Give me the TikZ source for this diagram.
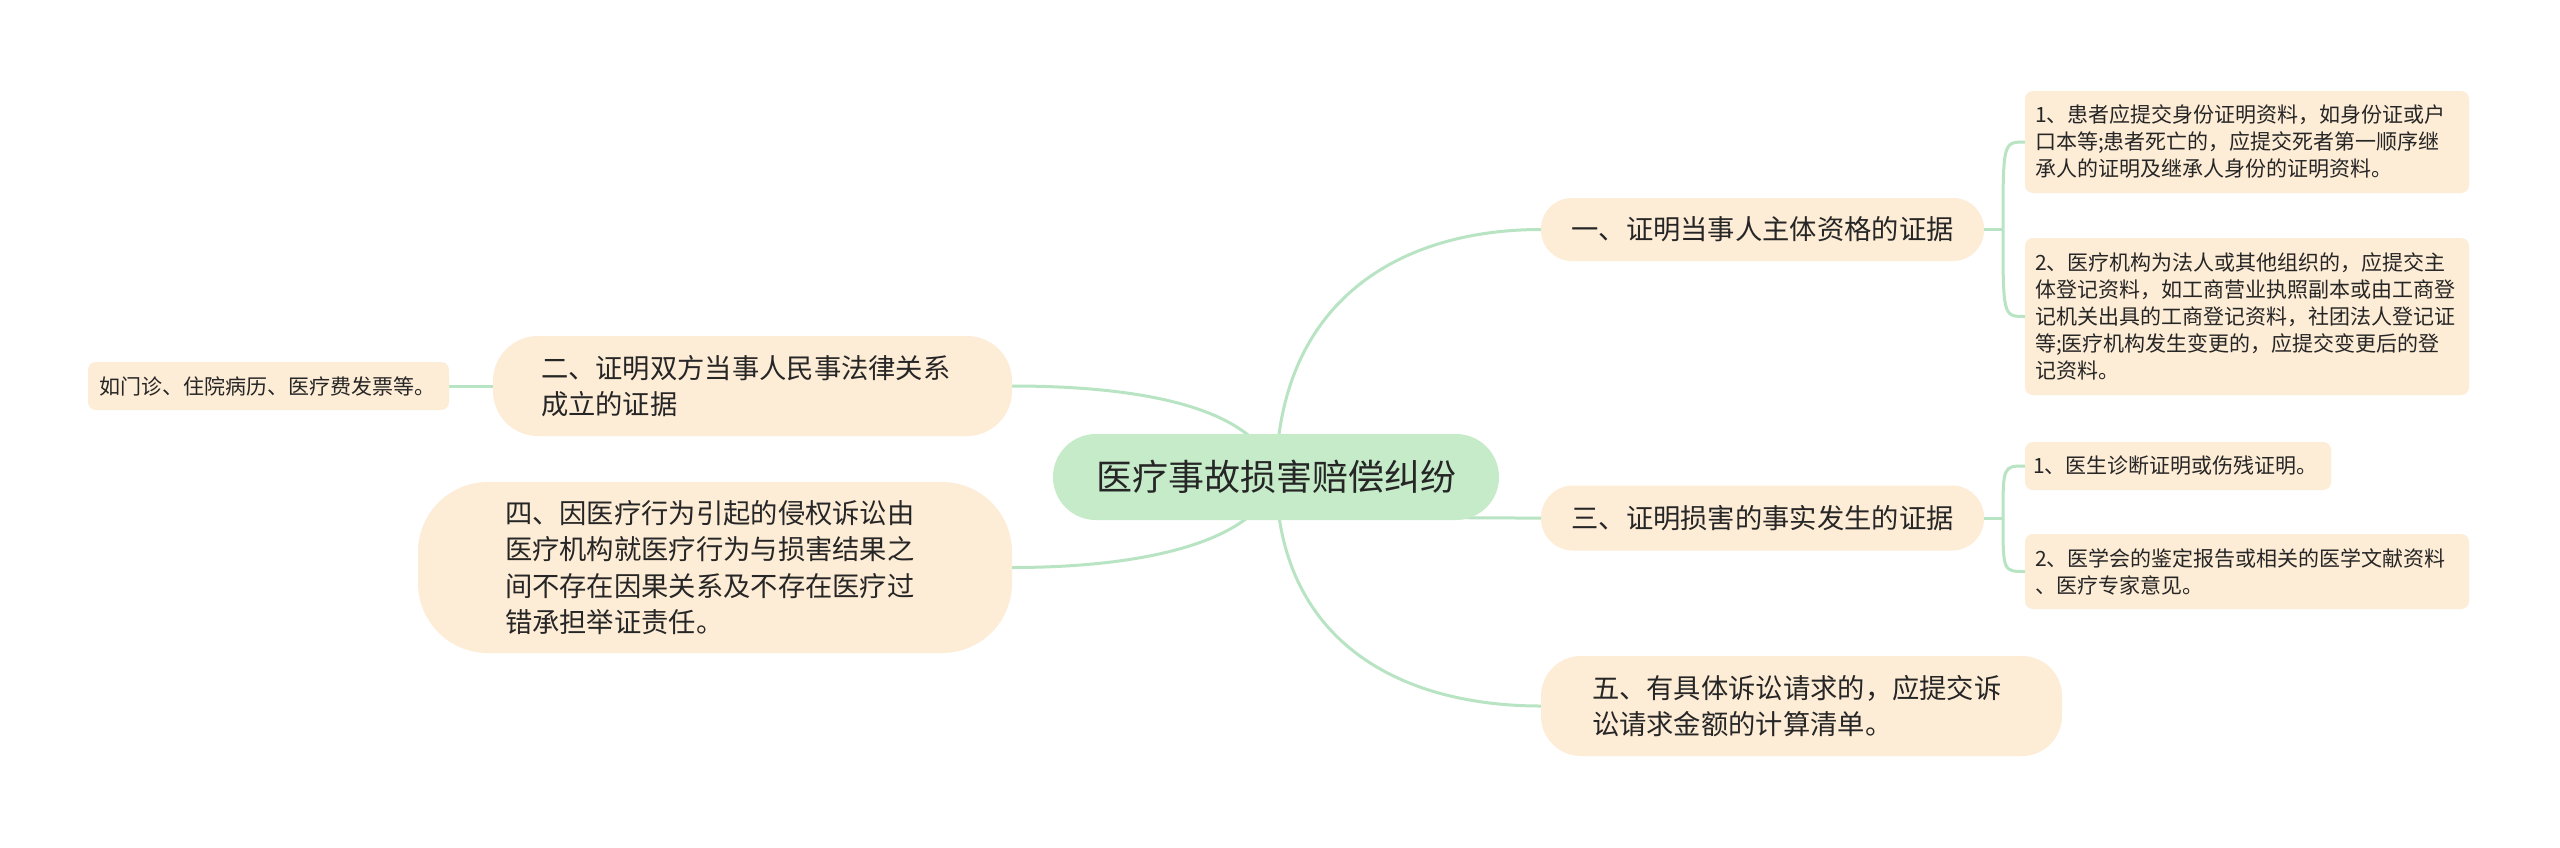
\documentclass[tikz,border=0pt]{standalone}
\usepackage{fontspec}
\setmainfont{Noto Sans CJK SC}
\definecolor{linec}{RGB}{184,228,195}
\definecolor{rootc}{RGB}{197,235,201}
\definecolor{peach}{RGB}{253,236,214}
\definecolor{txt}{RGB}{38,38,38}
\pgfdeclarelayer{bg}
\pgfsetlayers{bg,main}
\begin{document}
\begin{tikzpicture}[x=1pt,y=-1pt,
  box/.style={fill=peach, text=txt, inner sep=0pt, align=left},
  mainbox/.style={box, font=\fontsize{27.3}{36.4}\selectfont},
  leafbox/.style={box, rounded corners=8pt, font=\fontsize{21}{27}\selectfont},
  rootbox/.style={fill=rootc, text=txt, inner sep=0pt, font=\fontsize{36}{44}\selectfont},
  conn/.style={draw=linec, line width=3pt},
]
\useasboundingbox (0,0) rectangle (2560,847);

% root
\node[rootbox, minimum width=446pt, minimum height=86pt, rounded corners=43pt] (root) at (1276,477) {医疗事故损害赔偿纠纷};

% main branches
\node[mainbox, minimum width=443pt, minimum height=63pt, rounded corners=31pt] (n1) at (1762.5,229.5) {一、证明当事人主体资格的证据};
\node[mainbox, minimum width=443pt, minimum height=65pt, rounded corners=32pt] (n3) at (1762.5,518) {三、证明损害的事实发生的证据};
\node[mainbox, minimum width=521pt, minimum height=100pt, rounded corners=40pt, text width=419pt] (n5) at (1801.5,706) {五、有具体诉讼请求的，应提交诉\\讼请求金额的计算清单。};
\node[mainbox, minimum width=519pt, minimum height=100pt, rounded corners=45pt, text width=423pt] (n2) at (752.5,386) {二、证明双方当事人民事法律关系\\成立的证据};
\node[mainbox, minimum width=594pt, minimum height=171pt, rounded corners=70pt, text width=420pt] (n4) at (715,567.5) {四、因医疗行为引起的侵权诉讼由\\医疗机构就医疗行为与损害结果之\\间不存在因果关系及不存在医疗过\\错承担举证责任。};

% leaves
\node[leafbox, minimum width=361pt, minimum height=48pt, text width=338pt] (l0) at (268.5,386) {如门诊、住院病历、医疗费发票等。};
\node[leafbox, minimum width=444pt, minimum height=102pt, text width=424pt] (l1) at (2247,142) {1、患者应提交身份证明资料，如身份证或户\\口本等;患者死亡的，应提交死者第一顺序继\\承人的证明及继承人身份的证明资料。};
\node[leafbox, minimum width=444pt, minimum height=157pt, text width=424pt] (l2) at (2247,316.5) {2、医疗机构为法人或其他组织的，应提交主\\体登记资料，如工商营业执照副本或由工商登\\记机关出具的工商登记资料，社团法人登记证\\等;医疗机构发生变更的，应提交变更后的登\\记资料。};
\node[leafbox, minimum width=306pt, minimum height=48pt, text width=290pt] (l3) at (2178,466) {1、医生诊断证明或伤残证明。};
\node[leafbox, minimum width=444pt, minimum height=75pt, text width=424pt] (l4) at (2247,571.5) {2、医学会的鉴定报告或相关的医学文献资料\\、医疗专家意见。};

\coordinate (b1) at (2003,229.5);
\coordinate (b3) at (2003,518);

\begin{pgfonlayer}{bg}
\fill[white] (0,0) rectangle (2560,847);
\draw[conn] (root.center) .. controls (1278,300) and (1400,229.5) .. (n1.west);
\draw[conn] (root.center) .. controls (1330,518) and (1400,518) .. (n3.west);
\draw[conn] (root.center) .. controls (1278,642) and (1400,706) .. (n5.west);
\draw[conn] (root.center) .. controls (1260,410) and (1150,386) .. (n2.east);
\draw[conn] (root.center) .. controls (1260,540) and (1150,567.5) .. (n4.east);
\draw[conn] (l0.east) -- (n2.west);
\draw[conn] (n1.east) -- (b1);
\draw[conn] (b1) .. controls (b1 |- l1.west) .. (l1.west);
\draw[conn] (b1) .. controls (b1 |- l2.west) .. (l2.west);
\draw[conn] (n3.east) -- (b3);
\draw[conn] (b3) .. controls (b3 |- l3.west) .. (l3.west);
\draw[conn] (b3) .. controls (b3 |- l4.west) .. (l4.west);
\end{pgfonlayer}
\end{tikzpicture}
\end{document}
